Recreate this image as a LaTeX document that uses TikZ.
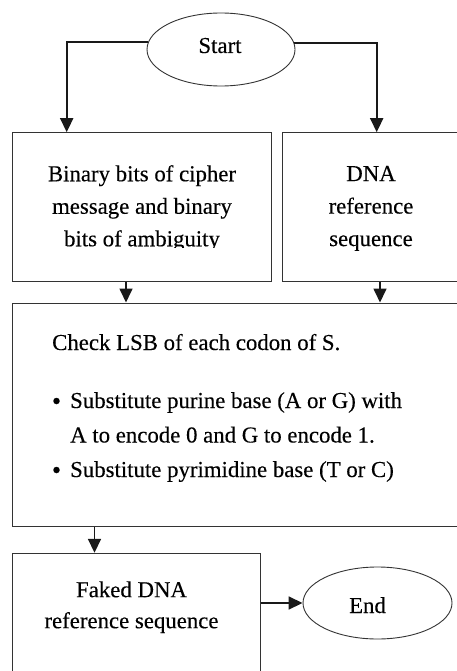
\documentclass[tikz,border=0pt]{standalone}
\usepackage{fontspec}
\setmainfont[FakeBold=0.25]{Liberation Serif}
\usetikzlibrary{arrows.meta,shapes.geometric}
\begin{document}
\begin{tikzpicture}[x=1pt,y=-1pt,
  box/.style={draw=black!80,line width=1pt,rectangle,inner sep=0pt},
  oval/.style={draw=black!80,line width=0.9pt,ellipse,inner sep=0pt},
  txt/.style={inner sep=0pt,text=black,font=\fontsize{22.8}{32.5}\selectfont},
  dot/.style={circle,fill=black,inner sep=0pt,minimum size=6.5pt},
  conn/.style={draw=black!90,line width=1.7pt,-{Triangle[length=14pt,width=13pt]}}
]
\useasboundingbox (0,0) rectangle (457,671);
\clip (0,0) rectangle (457,671);

% terminals
\node[oval,minimum width=148pt,minimum height=73pt] (start) at (221,49.5) {};
\node[txt,anchor=base] (starttxt) at (220,53) {Start};
\node[oval,minimum width=149pt,minimum height=72pt] (end) at (377.5,603) {};
\node[txt,anchor=base] (endtxt) at (367.5,613) {End};

% process boxes
\node[box,minimum width=259.4pt,minimum height=148.3pt] (bits) at (142,206.85) {};
\node[box,minimum width=175.3pt,minimum height=148.3pt] (dna) at (370.35,206.85) {};
\node[box,minimum width=447.7pt,minimum height=223.7pt] (check) at (236.15,414.85) {};
\node[box,minimum width=247.7pt,minimum height=146.7pt] (faked) at (136.15,626.65) {};

% box texts
\begin{scope}
  \clip (12,132) rectangle (272,247.5);
  \node[txt,align=center] (bitstxt) at (142,208.2)
    {Binary bits of cipher\\message and binary\\bits of ambiguity};
\end{scope}
\node[txt,align=center] (dnatxt) at (371,208.45) {DNA\\reference\\sequence};
\node[txt,anchor=base west] (chk) at (52,350) {Check LSB of each codon of S.};
\node[dot] (b1) at (56.5,401) {};
\node[txt,anchor=base west] (l1) at (70,408) {Substitute purine base (A or G) with};
\node[txt,anchor=base west] (l2) at (70,442.5) {A to encode 0 and G to encode 1.};
\node[dot] (b2) at (56.5,470) {};
\node[txt,anchor=base west] (l3) at (70,477) {Substitute pyrimidine base (T or C)};
\node[txt,align=center,font=\fontsize{22.8}{31}\selectfont] (fakedtxt) at (131.5,607.2)
  {Faked DNA\\reference sequence};

% connectors
\draw[conn] (start.174.7) -| ([xshift=-75.3pt]bits.north);
\draw[conn] (start.5.3) -| ([xshift=6.35pt]dna.north);
\draw[conn] ([xshift=-16pt]bits.south) -- ([xshift=-16pt]bits.south |- check.north);
\draw[conn] ([xshift=9.65pt]dna.south) -- ([xshift=9.65pt]dna.south |- check.north);
\draw[conn] ([xshift=-41.65pt]faked.north |- check.south) -- ([xshift=-41.65pt]faked.north);
\draw[conn] (faked.east |- end.west) -- (end.west);
\end{tikzpicture}
\end{document}
